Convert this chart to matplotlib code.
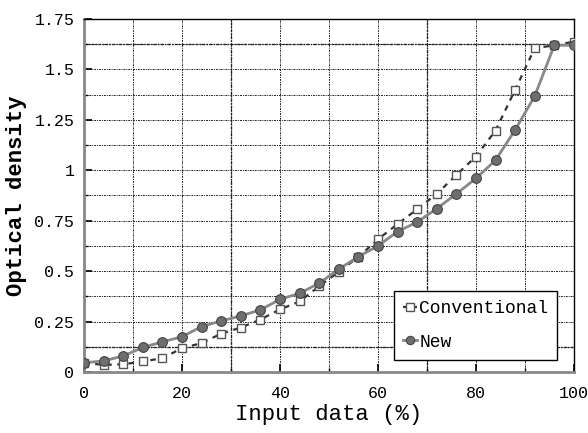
import matplotlib.pyplot as plt
import numpy as np
from matplotlib.ticker import MultipleLocator

input_pct = list(range(0, 101, 4))

conventional = [0.045, 0.035, 0.038, 0.052, 0.068, 0.118, 0.143, 0.19, 0.22, 0.26,
                0.31, 0.35, 0.425, 0.497, 0.57, 0.658, 0.733, 0.807, 0.883, 0.977,
                1.068, 1.197, 1.399, 1.605, 1.62, 1.638]
new = [0.045, 0.055, 0.079, 0.122, 0.149, 0.175, 0.225, 0.253, 0.278, 0.308,
       0.36, 0.39, 0.44, 0.51, 0.572, 0.625, 0.696, 0.743, 0.81, 0.883,
       0.96, 1.05, 1.20, 1.368, 1.62, 1.62]

FONT = "Liberation Mono"

fig = plt.figure(figsize=(5.88, 4.33), dpi=100)
ax = fig.add_axes([0.143, 0.141, 0.833, 0.815])

grid_style = dict(color="#222222", linestyle=(0, (2, 1, 1, 1)), linewidth=0.7, zorder=1)
for gx in np.arange(10, 100, 10):
    ax.axvline(gx, **grid_style)
for gy in np.arange(0.125, 1.75, 0.125):
    ax.axhline(gy, **grid_style)
# a few gridlines look heavier in the original
for gx in (30, 70):
    ax.axvline(gx, color="#222222", linestyle=(0, (2, 1, 1, 1)), linewidth=1.0, zorder=1)
for gy in (0.125, 1.625):
    ax.axhline(gy, color="#222222", linestyle=(0, (2, 1, 1, 1)), linewidth=1.0, zorder=1)

ax.plot(input_pct, conventional, color="#333333", linestyle=(0, (2.5, 2.5)), linewidth=1.6,
        marker="s", markersize=6, markerfacecolor="white", markeredgecolor="#555555",
        markeredgewidth=1.0, label="Conventional", zorder=3)
ax.plot(input_pct, new, color="#888888", linestyle="-", linewidth=2.0,
        marker="o", markersize=7, markerfacecolor="#6e6e6e", markeredgecolor="#444444",
        markeredgewidth=0.8, label="New", zorder=4)

ax.set_xlim(0, 100)
ax.set_ylim(0, 1.75)
ax.xaxis.set_major_locator(MultipleLocator(20))
ax.xaxis.set_minor_locator(MultipleLocator(10))
ax.yaxis.set_major_locator(MultipleLocator(0.25))
ax.yaxis.set_minor_locator(MultipleLocator(0.125))
ax.tick_params(which="both", direction="in", top=False, right=False)
ax.tick_params(which="major", length=6, width=1.2)
ax.tick_params(axis="x", which="major", pad=10)
ax.tick_params(axis="y", which="major", pad=7)
ax.tick_params(which="minor", length=3, width=1.0)

ax.set_yticks([0, 0.25, 0.5, 0.75, 1, 1.25, 1.5, 1.75])
ax.set_yticklabels(["0", "0.25", "0.5", "0.75", "1", "1.25", "1.5", "1.75"],
                   fontfamily=FONT, fontsize=12)
ax.set_xticks([0, 20, 40, 60, 80, 100])
ax.set_xticklabels(["0", "20", "40", "60", "80", "100"], fontfamily=FONT, fontsize=12)

ax.spines["left"].set_color("#888888")
ax.spines["left"].set_linewidth(2)
ax.spines["bottom"].set_color("#888888")
ax.spines["bottom"].set_linewidth(2)
ax.spines["top"].set_linewidth(1)
ax.spines["right"].set_linewidth(1)

ax.set_xlabel("Input data (%)", fontfamily=FONT, fontsize=16, labelpad=2)
ax.set_ylabel("Optical density", fontfamily=FONT, fontsize=16, fontweight="bold", labelpad=5)

leg = ax.legend(loc="lower right", bbox_to_anchor=(0.966, 0.035), prop={"family": FONT, "size": 13},
                handlelength=0.8, handletextpad=0.1, borderpad=0.5, labelspacing=0.9,
                frameon=True, fancybox=False, framealpha=1, edgecolor="black", borderaxespad=0)
leg.get_frame().set_linewidth(1.0)
for h in leg.legend_handles:
    h.set_markersize(6)

fig.savefig("out.png", dpi=100)
